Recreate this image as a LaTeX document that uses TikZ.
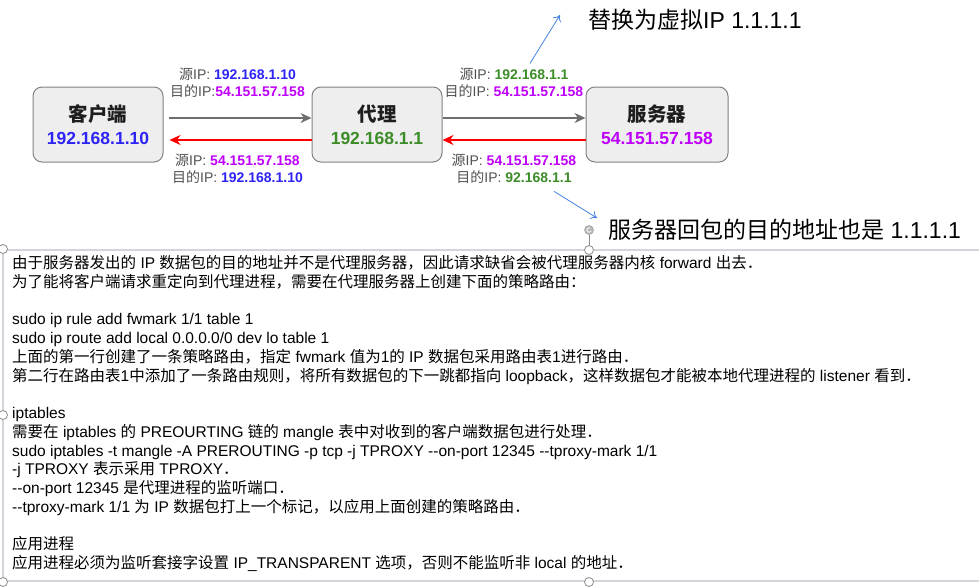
\documentclass[tikz,border=0pt]{standalone}
\usepackage{fontspec}
\setmainfont{Liberation Sans}
\newfontfamily\cjkfont{Noto Sans CJK SC}
\usepackage{xcolor}
\usepackage{tikz}
\usetikzlibrary{positioning, arrows.meta}

% switch to the CJK family for Chinese characters
\XeTeXinterchartokenstate=1
\newXeTeXintercharclass\cjkclass
\newcount\cjkcode
\def\markcjk#1#2{\cjkcode=#1
  \loop\XeTeXcharclass\cjkcode=\cjkclass
  \ifnum\cjkcode<#2 \advance\cjkcode by 1 \repeat}
\markcjk{"4E00}{"9FFF}
\markcjk{"3000}{"303F}
\markcjk{"FF00}{"FFEF}
\XeTeXinterchartoks 0 \cjkclass = {\begingroup\cjkfont}
\XeTeXinterchartoks 4095 \cjkclass = {\begingroup\cjkfont}
\XeTeXinterchartoks \cjkclass 0 = {\endgroup}
\XeTeXinterchartoks \cjkclass 4095 = {\endgroup}

\definecolor{boxfill}{RGB}{238,238,238}
\definecolor{boxline}{RGB}{130,130,130}
\definecolor{titletext}{RGB}{30,30,30}
\definecolor{ipblue}{RGB}{45,35,245}
\definecolor{ippurple}{RGB}{190,0,250}
\definecolor{ipgreen}{RGB}{60,140,40}
\definecolor{labelgray}{RGB}{80,80,80}
\definecolor{flowgray}{RGB}{110,110,110}
\definecolor{flowred}{RGB}{250,0,0}
\definecolor{hintblue}{RGB}{70,130,225}
\definecolor{framegray}{RGB}{210,213,218}
\definecolor{handlegray}{RGB}{140,140,140}

\begin{document}
\begin{tikzpicture}[
        x=1pt, y=1pt,
        box/.style={rectangle, rounded corners=9pt, draw=boxline, fill=boxfill, line width=1pt, minimum width=130pt, minimum height=75pt, align=center, text=titletext, font=\bfseries\fontsize{19.5}{22}\selectfont},
        flow/.style={-{Stealth[length=11pt, width=10pt]}, line width=2pt, draw=flowgray},
        back/.style={flow, draw=flowred},
        uplabel/.style={above=19pt, inner sep=0pt, align=center, text=labelgray, font=\fontsize{14}{17}\selectfont},
        downlabel/.style={below=12.7pt, inner sep=0pt, align=center, text=labelgray, font=\fontsize{14}{17}\selectfont},
        note/.style={anchor=west, inner sep=0pt, font=\fontsize{23}{26}\selectfont},
        hint/.style={-{To[length=6pt, width=9pt]}, draw=hintblue, line width=0.8pt},
        frame/.style={draw=framegray, line width=1.5pt},
        handle/.style={draw=handlegray, fill=white, line width=0.8pt},
        body/.style={anchor=north west, inner sep=0pt, align=left, font=\fontsize{15.5}{18.75}\selectfont}
    ]
        \useasboundingbox (0,0) rectangle (979,-587);

        \node (client) [box] at (98,-124.5) {客户端\\[1pt]{\fontsize{17.5}{20}\selectfont\color{ipblue}192.168.1.10}};
        \node (proxy) [box, right=148pt of client] {代理\\[1pt]{\fontsize{17.5}{20}\selectfont\color{ipgreen}192.168.1.1}};
        \node (server) [box, minimum width=142pt, right=143pt of proxy] {服务器\\[1pt]{\fontsize{17.5}{20}\selectfont\color{ippurple}54.151.57.158}};

        \draw[flow, shorten <=5pt] ([yshift=6.5pt]client.east) -- node (up1) [uplabel] {源IP: {\bfseries\color{ipblue}192.168.1.10}\\目的IP:{\bfseries\color{ippurple}54.151.57.158}} ([yshift=6.5pt]proxy.west);
        \draw[back, shorten >=6pt] ([yshift=-15.5pt]proxy.west) -- node (down1) [downlabel] {源IP: {\bfseries\color{ippurple}54.151.57.158}\\目的IP: {\bfseries\color{ipblue}192.168.1.10}} ([yshift=-15.5pt]client.east);
        \draw[flow] ([yshift=6.5pt]proxy.east) -- node (up2) [uplabel] {源IP: {\bfseries\color{ipgreen}192.168.1.1}\\目的IP: {\bfseries\color{ippurple}54.151.57.158}} ([yshift=6.5pt]server.west);
        \draw[back] ([yshift=-15.5pt]server.west) -- node (down2) [downlabel] {源IP: {\bfseries\color{ippurple}54.151.57.158}\\目的IP: {\bfseries\color{ipgreen}92.168.1.1}} ([yshift=-15.5pt]proxy.east);

        \node (note1) [note] at (588,-20) {替换为虚拟IP 1.1.1.1};
        \node (note2) [note] at (608,-230) {服务器回包的目的地址也是 1.1.1.1};
        \draw[hint] ([xshift=16pt, yshift=4pt]up2.north) -- ([xshift=-28pt, yshift=5pt]note1.west);
        \draw[hint] ([xshift=40pt, yshift=-7pt]down2.south) -- ([xshift=-11pt, yshift=12pt]note2.west);

        % text box with its handles
        \draw[frame] (979,-250) -- (3,-250) -- (3,-581) -- (979,-581);
        \draw[handlegray, line width=0.8pt] (589,-234.5) -- (589,-245.5);
        \draw[handlegray, fill=handlegray!60] (589,-230) circle (4.5);
        \draw[white, line width=0.8pt] (589,-230) ++(60:2.2) arc (60:330:2.2);
        \draw[handle] (3,-249) circle (4.5);
        \draw[handle] (589,-250) circle (4.5);
        \draw[handle] (3,-415) circle (4.5);
        \draw[handle] (3,-582) circle (4.5);
        \draw[handle] (589,-582) circle (4.5);

        \node (notes) [body] at (12,-254.5) {\rule{0pt}{14pt}由于服务器发出的 IP 数据包的目的地址并不是代理服务器，因此请求缺省会被代理服务器内核 forward 出去．\\
            为了能将客户端请求重定向到代理进程，需要在代理服务器上创建下面的策略路由：\\[18.75pt]
            sudo ip rule add fwmark 1/1 table 1\\
            sudo ip route add local 0.0.0.0/0 dev lo table 1\\
            上面的第一行创建了一条策略路由，指定 fwmark 值为1的 IP 数据包采用路由表1进行路由．\\
            第二行在路由表1中添加了一条路由规则，将所有数据包的下一跳都指向 loopback，这样数据包才能被本地代理进程的 listener 看到．\\[18.75pt]
            iptables\\
            需要在 iptables 的 PREOURTING 链的 mangle 表中对收到的客户端数据包进行处理．\\
            sudo iptables -t mangle -A PREROUTING -p tcp -j TPROXY -{}-on-port 12345 -{}-tproxy-mark 1/1\\
            -j TPROXY 表示采用 TPROXY．\\
            -{}-on-port 12345 是代理进程的监听端口．\\
            -{}-tproxy-mark 1/1 为 IP 数据包打上一个标记，以应用上面创建的策略路由．\\[18.75pt]
            应用进程\\
            应用进程必须为监听套接字设置 IP\_TRANSPARENT 选项，否则不能监听非 local 的地址．};
    \end{tikzpicture}
\end{document}
